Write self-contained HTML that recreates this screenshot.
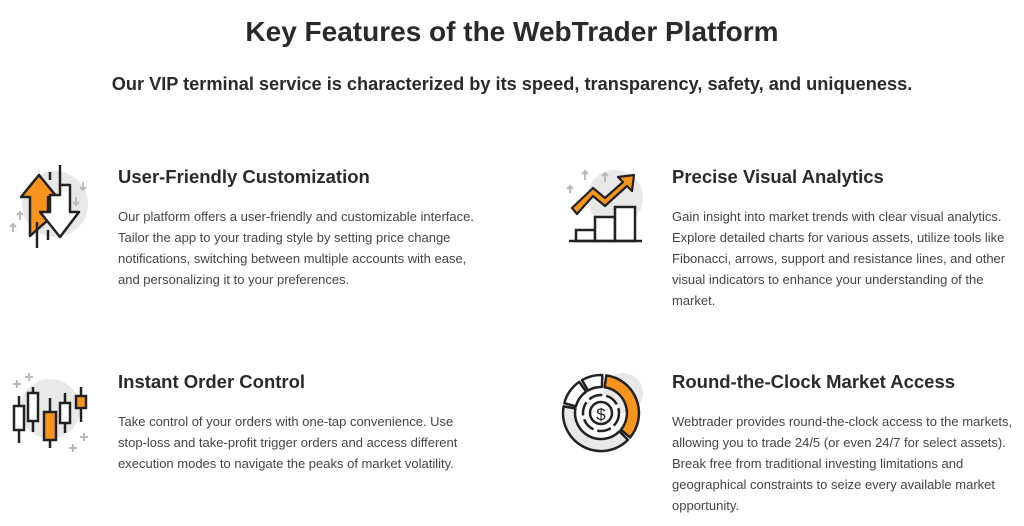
<!DOCTYPE html>
<html><head><meta charset="utf-8"><style>
body{margin:0;width:1024px;height:526px;background:#fff;font-family:"Liberation Sans",sans-serif;color:#222;position:relative;overflow:hidden}
.t{position:absolute;left:0;width:1024px;text-align:center}
h1{font-size:28px;font-weight:600;margin:0;top:16px;color:#2a2a2a}
h2{font-size:18.2px;font-weight:700;margin:0;top:74px;color:#2a2a2a}
.h{position:absolute;font-size:18.5px;font-weight:600;color:#2a2a2a}
.p{position:absolute;font-size:13px;line-height:21px;color:#444}
svg{position:absolute}
</style></head><body>
<h1 class="t">Key Features of the WebTrader Platform</h1>
<h2 class="t">Our VIP terminal service is characterized by its speed, transparency, safety, and uniqueness.</h2>

<div class="h" style="left:118px;top:166px">User-Friendly Customization</div>
<div class="p" style="left:118px;top:206px;width:380px">Our platform offers a user-friendly and customizable interface.<br>Tailor the app to your trading style by setting price change<br>notifications, switching between multiple accounts with ease,<br>and personalizing it to your preferences.</div>

<div class="h" style="left:672px;top:166px">Precise Visual Analytics</div>
<div class="p" style="left:672px;top:206px;width:350px">Gain insight into market trends with clear visual analytics.<br>Explore detailed charts for various assets, utilize tools like<br>Fibonacci, arrows, support and resistance lines, and other<br>visual indicators to enhance your understanding of the<br>market.</div>

<div class="h" style="left:118px;top:371px">Instant Order Control</div>
<div class="p" style="left:118px;top:411px;width:380px">Take control of your orders with one-tap convenience. Use<br>stop-loss and take-profit trigger orders and access different<br>execution modes to navigate the peaks of market volatility.</div>

<div class="h" style="left:672px;top:371px">Round-the-Clock Market Access</div>
<div class="p" style="left:672px;top:411px;width:350px">Webtrader provides round-the-clock access to the markets,<br>allowing you to trade 24/5 (or even 24/7 for select assets).<br>Break free from traditional investing limitations and<br>geographical constraints to seize every available market<br>opportunity.</div>

<!-- icon 1 -->
<svg style="left:0;top:160px" width="110" height="100" viewBox="0 0 110 100">
<circle cx="55" cy="44" r="33" fill="#e8e8e8"/>
<g stroke="#bbb" stroke-width="2" fill="none"><path d="M13 72v-8M10 67l3-3 3 3M20 60v-8M17 55l3-3 3 3M83 22v8M80 27l3 3 3-3M76 37v8M73 42l3 3 3-3"/></g>
<path d="M39 15 L57 37 L48 37 L48 60 L30 76 L30 37 L21 37 Z" fill="#f7941d" stroke="#222" stroke-width="2.5" stroke-linejoin="round"/>
<path d="M60 25 L70 25 L70 52 L79 52 L60 77 L40 52 L50 52 L50 35 L60 35 Z" fill="#fff" stroke="#222" stroke-width="2.5" stroke-linejoin="round"/>
<g stroke="#222" stroke-width="2.5"><path d="M60 5v20M50 12v8M37 62v26M48 70v10"/></g>
</svg>

<!-- icon 2 -->
<svg style="left:555px;top:160px" width="110" height="100" viewBox="0 0 110 100">
<circle cx="60" cy="38" r="28" fill="#e8e8e8"/>
<g stroke="#bbb" stroke-width="2" fill="none"><path d="M15 33v-6M12 29l3-3 3 3M30 20v-8M27 14l3-3 3 3M50 22v-8M47 16l3-3 3 3"/></g>
<path d="M17 48 L38 28 L50 38 L68 22 L63 17 L79 15 L77 31 L72 26 L50 46 L38 36 L22 54 Z" fill="#f7941d" stroke="#222" stroke-width="2.2" stroke-linejoin="round"/>
<g fill="#fff" stroke="#222" stroke-width="2.5"><rect x="21" y="70" width="19" height="11"/><rect x="40" y="57" width="20" height="24"/><rect x="60" y="47" width="20" height="34"/></g>
<path d="M14 81h73" stroke="#222" stroke-width="2.5"/>
</svg>

<!-- icon 3 -->
<svg style="left:0;top:365px" width="110" height="100" viewBox="0 0 110 100">
<circle cx="50" cy="44" r="30" fill="#e8e8e8"/>
<g stroke="#bbb" stroke-width="2"><path d="M17 15v8M13 19h8M29 8v8M25 12h8M73 79v8M69 83h8M84 68v8M80 72h8"/></g>
<g stroke="#222" stroke-width="2.5"><path d="M19 31v47M33 22v45M50 33v50M65 28v40M81 22v35"/></g>
<g stroke="#222" stroke-width="2.5"><rect x="14" y="41" width="10" height="24" fill="#fff"/><rect x="28" y="28" width="10" height="28" fill="#fff"/><rect x="44" y="47" width="12" height="28" fill="#f7941d"/><rect x="60" y="38" width="10" height="20" fill="#fff"/><rect x="76" y="31" width="10" height="12" fill="#f7941d"/></g>
</svg>

<!-- icon 4 -->
<svg style="left:555px;top:365px" width="110" height="100" viewBox="0 0 110 100">
<circle cx="68" cy="28" r="20" fill="#e8e8e8"/>
<g stroke="#222" stroke-width="2.5" stroke-linejoin="round">
<path d="M51.3 10.4 A38 38 0 0 1 75.1 72.4 L65.9 64.7 A26 26 0 0 0 49.6 22.3 Z" fill="#f7941d"/>
<path d="M72.9 74.9 A38 38 0 0 1 8.6 41.4 L20.4 43.5 A26 26 0 0 0 64.4 66.4 Z" fill="#e8e8e8"/>
<path d="M9.3 38.2 A38 38 0 0 1 24.2 16.9 L31.1 26.7 A26 26 0 0 0 20.9 41.3 Z" fill="#fff"/>
<path d="M27 15.1 A38 38 0 0 1 47.3 10 L46.9 22 A26 26 0 0 0 33 25.5 Z" fill="#fff"/>
</g>
<circle cx="46" cy="48" r="18" fill="#fff" stroke="#222" stroke-width="2.5" stroke-dasharray="14 4"/>
<circle cx="46" cy="48" r="11" fill="#fff" stroke="#222" stroke-width="2.5"/>
<text x="46" y="55" font-size="17" text-anchor="middle" font-family="Liberation Sans" fill="#222">$</text>
</svg>
</body></html>
